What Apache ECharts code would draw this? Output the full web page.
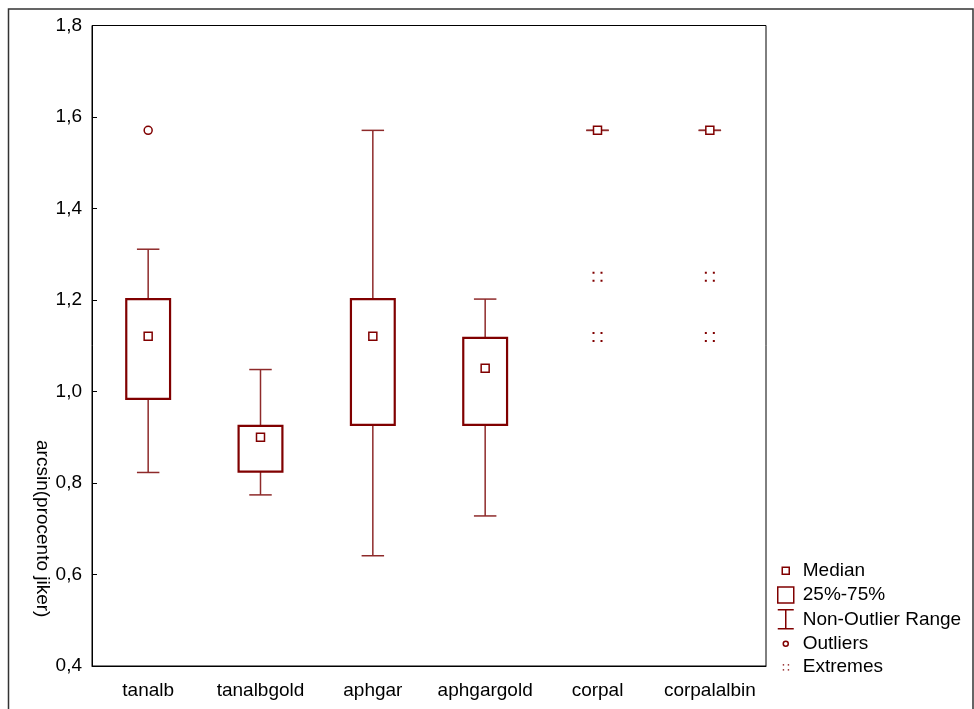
<!DOCTYPE html>
<html>
<head>
<meta charset="utf-8">
<script src="https://cdn.jsdelivr.net/npm/echarts@6/dist/echarts.min.js"></script>
<style>
html,body{margin:0;padding:0;background:#fff;}
#chart{width:974px;height:709px;}
</style>
</head>
<body>
<div id="chart"></div>
<script>
// ---- data ----
var categories = ['tanalb', 'tanalbgold', 'aphgar', 'aphgargold', 'corpal', 'corpalalbin'];
var mins    = [0.823, 0.774, 0.641, 0.728, 1.5708, 1.5708];
var q1s     = [0.984, 0.825, 0.927, 0.927, 1.5708, 1.5708];
var medians = [1.121, 0.900, 1.121, 1.051, 1.5708, 1.5708];
var q3s     = [1.202, 0.925, 1.202, 1.117, 1.5708, 1.5708];
var maxs    = [1.311, 1.048, 1.5708, 1.202, 1.5708, 1.5708];
var outliers = [[0, 1.5708]];
var extremes = [[4, 1.251], [4, 1.119], [5, 1.251], [5, 1.119]];
var yTicks = [0.4, 0.6, 0.8, 1.0, 1.2, 1.4, 1.6, 1.8];

var RED = '#800000';
var FONT = 'Liberation Sans, Arial, sans-serif';

var boxData = categories.map(function (c, i) { return [i, q1s[i], q3s[i]]; });
var whiskerData = categories.map(function (c, i) { return [i, mins[i], q1s[i], q3s[i], maxs[i]]; });
var medianData = categories.map(function (c, i) { return [i, medians[i]]; });

function renderBox(params, api) {
  var i = api.value(0), lo = api.value(1), hi = api.value(2);
  if (lo === hi) return { type: 'group', children: [] };
  var pt = api.coord([i, hi]), pb = api.coord([i, lo]);
  var w = api.size([1, 0])[0] * 0.39;
  return {
    type: 'rect',
    shape: { x: pt[0] - w / 2, y: pt[1], width: w, height: pb[1] - pt[1] },
    style: { fill: '#fff', stroke: RED, lineWidth: 2.2 }
  };
}

function renderWhisker(params, api) {
  var i = api.value(0);
  var pMin = api.coord([i, api.value(1)]);
  var pQ1 = api.coord([i, api.value(2)]);
  var pQ3 = api.coord([i, api.value(3)]);
  var pMax = api.coord([i, api.value(4)]);
  var cw = api.size([1, 0])[0] * 0.2;
  var st = { stroke: '#8e2a2a', lineWidth: 1.5 };
  var x = pMin[0];
  return {
    type: 'group',
    children: [
      { type: 'line', shape: { x1: x, y1: pMax[1], x2: x, y2: pQ3[1] }, style: st },
      { type: 'line', shape: { x1: x, y1: pQ1[1], x2: x, y2: pMin[1] }, style: st },
      { type: 'line', shape: { x1: x - cw / 2, y1: pMax[1], x2: x + cw / 2, y2: pMax[1] }, style: st },
      { type: 'line', shape: { x1: x - cw / 2, y1: pMin[1], x2: x + cw / 2, y2: pMin[1] }, style: st }
    ]
  };
}

var hollow = { color: 'rgba(255,255,255,0)', borderColor: RED, borderWidth: 1.5 };

var chart = echarts.init(document.getElementById('chart'), null, { renderer: 'canvas' });
chart.setOption({
  animation: false,
  backgroundColor: '#fff',
  textStyle: { fontFamily: FONT },
  graphic: [{
    type: 'rect', silent: true, z: 100,
    shape: { x: 8.5, y: 9, width: 964.5, height: 730 },
    style: { fill: 'none', stroke: '#333', lineWidth: 1.5 }
  }],
  grid: { left: 92, top: 25.5, right: 208, bottom: 43, show: true, borderColor: '#000', borderWidth: 1, backgroundColor: 'rgba(0,0,0,0)' },
  legend: {
    orient: 'vertical',
    left: 768, top: 555,
    itemWidth: 24, itemHeight: 20, itemGap: 2.8,
    textStyle: { fontFamily: FONT, fontSize: 19, color: '#000' },
    selectedMode: false,
    data: [
      { name: 'Median', icon: 'path://M0 0M24 20M8.5 6.5h7v7h-7z', itemStyle: hollow },
      { name: '25%-75%', icon: 'path://M0 0M24 20M4 2h16v16h-16z', itemStyle: hollow },
      { name: 'Non-Outlier Range', icon: 'path://M0 0M24 20M4 0.5H20M12 0.5V19.5M4 19.5H20', itemStyle: hollow },
      { name: 'Outliers', icon: 'path://M0 0M24 20M9.5 10a2.5 2.5 0 1 0 5 0a2.5 2.5 0 1 0 -5 0z', itemStyle: hollow },
      { name: 'Extremes', icon: 'path://M0 0M24 20M9 7h1.4v1.4h-1.4zM14 7h1.4v1.4h-1.4zM9 12h1.4v1.4h-1.4zM14 12h1.4v1.4h-1.4z', itemStyle: { color: RED, borderWidth: 0 } }
    ]
  },
  xAxis: {
    type: 'category',
    data: categories,
    boundaryGap: true,
    axisLine: { lineStyle: { color: '#000', width: 1 } },
    axisTick: { inside: true, length: 4, alignWithLabel: true, interval: 0, lineStyle: { color: '#000' } },
    axisLabel: { color: '#000', fontSize: 19, fontFamily: FONT, margin: 15, interval: 0, hideOverlap: false },
    splitLine: { show: false }
  },
  yAxis: {
    type: 'value',
    min: yTicks[0], max: yTicks[yTicks.length - 1], interval: 0.2,
    name: 'arcsin(procento jiker)',
    nameLocation: 'middle',
    nameRotate: -90,
    nameGap: 40,
    nameMoveOverlap: false,
    nameTextStyle: { color: '#000', fontSize: 19, fontFamily: FONT, padding: [0, 0, 0, 366] },
    axisLine: { show: true, lineStyle: { color: '#000', width: 1 } },
    axisTick: { show: true, inside: true, length: 5, lineStyle: { color: '#000' } },
    axisLabel: {
      color: '#000', fontSize: 19, fontFamily: FONT, margin: 10,
      formatter: function (v) { return v.toFixed(1).replace('.', ','); }
    },
    splitLine: { show: false }
  },
  series: [
    {
      name: 'Non-Outlier Range', type: 'custom', z: 2,
      renderItem: renderWhisker, data: whiskerData,
      encode: { x: 0, y: [1, 4] },
      itemStyle: { color: RED }
    },
    {
      name: '25%-75%', type: 'custom', z: 3,
      renderItem: renderBox, data: boxData,
      encode: { x: 0, y: [1, 2] },
      itemStyle: { color: RED }
    },
    {
      name: 'Median', type: 'scatter', z: 4,
      symbol: 'rect', symbolSize: 8,
      itemStyle: { color: '#fff', borderColor: RED, borderWidth: 1.5, opacity: 1 },
      data: medianData
    },
    {
      name: 'Outliers', type: 'scatter', z: 4,
      symbol: 'circle', symbolSize: 8,
      itemStyle: { color: '#fff', borderColor: RED, borderWidth: 1.5, opacity: 1 },
      data: outliers
    },
    {
      name: 'Extremes', type: 'scatter', z: 4,
      symbol: 'path://M0 0h2v2h-2zM8 0h2v2h-2zM0 8h2v2h-2zM8 8h2v2h-2z', symbolSize: 10,
      itemStyle: { color: RED, opacity: 1 },
      data: extremes
    }
  ]
});
</script>
</body>
</html>
